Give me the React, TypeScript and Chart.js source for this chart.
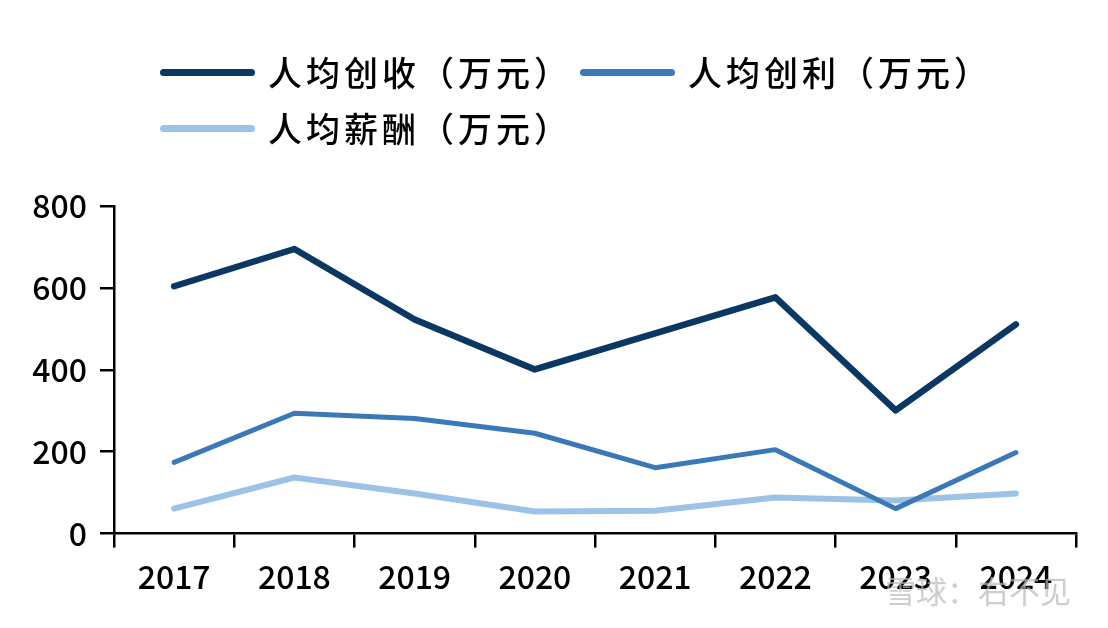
import React, { useEffect, useRef } from "react";
import { Chart, registerables } from "chart.js";

Chart.register(...registerables);

const categories = ["2017", "2018", "2019", "2020", "2021", "2022", "2023", "2024"];
const revenuePerCapita = [604, 695, 523, 401, 489, 577, 301, 511];
const profitPerCapita = [174, 294, 281, 245, 161, 205, 61, 198];
const salaryPerCapita = [61, 137, 98, 54, 56, 88, 81, 98];
const seriesNames = ["人均创收（万元）", "人均创利（万元）", "人均薪酬（万元）"];
const seriesColors = ["#0b3763", "#3a78b8", "#9cc2e5"];
const yTicks = [0, 200, 400, 600, 800];

const FONT = '"Noto Sans CJK SC", "Noto Sans", sans-serif';

export default function App() {
  const canvasRef = useRef<HTMLCanvasElement | null>(null);

  useEffect(() => {
    if (!canvasRef.current) return;
    const chart = new Chart(canvasRef.current, {
      type: "line",
      data: {
        labels: categories,
        datasets: [
          { label: seriesNames[0], data: revenuePerCapita, borderColor: seriesColors[0], backgroundColor: seriesColors[0], borderWidth: 6.5 },
          { label: seriesNames[1], data: profitPerCapita, borderColor: seriesColors[1], backgroundColor: seriesColors[1], borderWidth: 5 },
          { label: seriesNames[2], data: salaryPerCapita, borderColor: seriesColors[2], backgroundColor: seriesColors[2], borderWidth: 6 },
        ].map((d) => ({
          ...d,
          tension: 0,
          pointRadius: 0,
          pointHoverRadius: 0,
          borderCapStyle: "round" as const,
          borderJoinStyle: "round" as const,
          fill: false,
        })),
      },
      options: {
        animation: false,
        responsive: false,
        devicePixelRatio: 1,
        layout: { padding: { top: 198, right: 24, left: 0, bottom: 14 } },
        plugins: { legend: { display: false }, tooltip: { enabled: false } },
        scales: {
          x: {
            offset: true,
            grid: {
              offset: true,
              drawOnChartArea: false,
              drawTicks: true,
              tickLength: 14,
              color: "#000",
              lineWidth: 2.5,
            },
            border: { display: true, color: "#000", width: 2.5 },
            ticks: {
              color: "#000",
              font: { family: FONT, size: 32, weight: 500 },
              padding: 10,
              maxRotation: 0,
              autoSkip: false,
            },
          },
          y: {
            min: 0,
            max: 800,
            afterBuildTicks: (scale: any) => {
              scale.ticks = yTicks.map((v) => ({ value: v }));
            },
            afterFit: (scale: any) => {
              scale.width = 106;
            },
            grid: {
              drawOnChartArea: false,
              drawTicks: true,
              tickLength: 14,
              color: "#000",
              lineWidth: 2.5,
            },
            border: { display: true, color: "#000", width: 2.5 },
            ticks: {
              color: "#000",
              font: { family: FONT, size: 32, weight: 500 },
              padding: 13,
            },
          },
        },
      },
    });
    return () => chart.destroy();
  }, []);

  const legendItem = (i: number, left: number, top: number) => (
    <div
      key={i}
      style={{ position: "absolute", left, top, display: "flex", alignItems: "center", height: 44 }}
    >
      <div style={{ width: 95, height: 7, borderRadius: 4, background: seriesColors[i] }} />
      <span
        style={{
          marginLeft: 13,
          fontFamily: FONT,
          fontSize: 34,
          fontWeight: 500,
          letterSpacing: 4,
          color: "#000",
          lineHeight: "44px",
          whiteSpace: "nowrap",
        }}
      >
        {seriesNames[i]}
      </span>
    </div>
  );

  return (
    <div style={{ position: "relative", width: 1092, height: 612 }}>
      <canvas ref={canvasRef} width={1092} height={612} style={{ display: "block" }} />
      {legendItem(0, 152, 42)}
      {legendItem(1, 572, 42)}
      {legendItem(2, 152, 98)}
      <div
        style={{
          position: "absolute",
          left: 877,
          top: 562,
          fontFamily: FONT,
          fontSize: 31,
          lineHeight: "40px",
          color: "rgba(185,185,185,0.7)",
          whiteSpace: "nowrap",
        }}
      >
        雪球：右不见
      </div>
    </div>
  );
}
